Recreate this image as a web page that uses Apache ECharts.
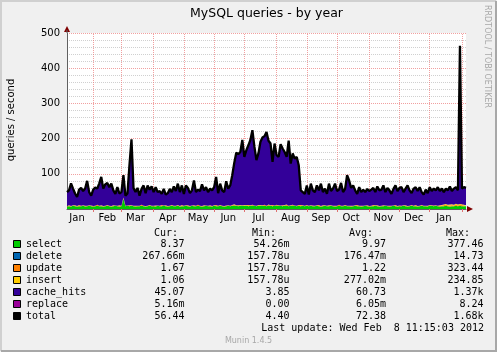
<!DOCTYPE html>
<html>
<head>
<meta charset="utf-8">
<title>MySQL queries - by year</title>
<script src="https://cdn.jsdelivr.net/npm/echarts@6/dist/echarts.min.js"></script>
<style>
html, body { margin: 0; padding: 0; background: #F0F0F0; }
#container { width: 497px; height: 352px; }
</style>
</head>
<body>
<div id="container"></div>
<script>
// one point every 2 days, starting 2011-01-06
var startDay = Date.UTC(2011, 0, 6);
var monthNames = ['Jan', 'Feb', 'Mar', 'Apr', 'May', 'Jun', 'Jul', 'Aug', 'Sep', 'Oct', 'Nov', 'Dec'];

// total queries/s (top of the black line)
var total = [
	48,53,73,58,44,34,55,60,51,58,80,48,38,55,61,58,73,91,58,70,74,62,72,53,43,62,44,48,96,38,44,125,198,60,
	48,60,38,57,67,45,67,55,64,48,62,48,51,43,57,41,45,57,48,64,51,72,48,67,43,67,60,45,53,81,48,55,51,
	70,53,62,48,58,53,62,91,45,72,53,48,79,58,67,96,131,160,156,162,196,148,167,181,196,224,177,139,158,191,203,207,219,
	194,186,134,186,153,148,184,172,162,148,194,129,158,143,148,124,53,48,43,67,41,72,53,48,67,53,72,48,58,43,72,51,58,
	72,51,55,74,48,57,96,81,60,67,53,43,62,48,55,48,57,51,55,60,48,64,53,55,67,48,60,53,43,57,67,51,60,
	62,48,58,67,53,45,58,62,51,62,48,41,55,45,62,51,58,53,62,51,58,48,58,53,64,51,58,62,53,464,58,62,60
];
var select = [
	7,8,7,9,8,7,8,8,9,7,8,9,8,7,8,9,8,8,7,8,
	9,8,7,8,9,8,7,8,30,8,9,8,9,8,7,8,8,9,8,7,
	8,9,8,8,7,9,8,8,9,8,7,8,9,8,8,9,7,8,8,9,
	8,7,9,8,8,9,8,7,8,9,8,8,7,9,8,8,9,8,7,8,
	9,8,9,10,9,8,10,9,9,10,8,9,10,9,8,9,10,9,9,8,
	10,9,8,9,10,9,9,8,10,9,8,9,10,9,8,9,8,9,8,9,
	8,9,8,8,9,8,7,8,9,8,8,9,8,7,8,9,8,8,9,8,
	8,7,8,9,8,8,7,8,9,8,7,8,8,9,8,7,8,8,9,8,
	7,8,9,8,7,8,8,9,8,7,8,9,8,8,7,8,9,8,8,7,
	10,9,8,9,8,7,8,8,9,8,7,8,8,9,8,9,8,8,8
];
var update = [
	1,2,1,1,2,1,3,1,1,2,1,1,2,1,1,3,1,2,1,1,
	2,1,1,2,1,1,3,1,2,1,1,2,1,1,2,1,1,3,1,1,
	1,2,1,1,2,1,1,3,1,2,1,1,2,1,1,2,1,3,1,1,
	2,1,1,2,1,3,1,1,2,1,1,2,1,1,3,1,2,1,1,2,
	1,1,2,3,1,2,1,1,2,1,3,1,2,1,1,2,1,1,3,1,
	2,1,3,1,2,1,1,2,1,3,1,1,2,1,1,2,3,1,1,2,
	1,1,2,1,1,3,1,2,1,1,2,1,1,2,1,3,1,1,2,1,
	1,2,1,1,3,1,2,1,1,2,1,1,3,1,2,1,1,2,1,1,
	2,1,1,3,1,2,1,1,2,1,1,2,1,3,1,1,2,1,1,2,
	1,1,2,1,1,3,2,3,3,2,3,3,2,3,2,3,3,2,2
];
var insert = [
	0.3,0.5,0.2,0.4,0.3,0.6,0.2,0.3,0.5,0.2,0.4,0.3,0.2,0.5,0.3,0.4,0.2,0.3,0.6,0.3,
	0.2,0.4,0.3,0.5,0.2,0.3,0.4,0.2,0.6,0.3,0.2,0.4,0.3,0.5,0.2,0.3,0.4,0.3,0.2,0.5,
	0.3,0.2,0.4,0.3,0.6,0.2,0.3,0.4,0.2,0.5,0.3,0.2,0.4,0.3,0.2,0.5,0.3,0.4,0.2,0.3,
	0.4,0.3,0.2,0.5,0.3,0.4,0.2,0.3,0.6,0.2,0.4,0.3,0.2,0.5,0.3,0.2,0.4,0.3,0.5,0.2,
	0.3,0.4,0.2,0.5,0.3,0.6,0.2,0.4,0.3,0.2,0.5,0.3,0.4,0.2,0.3,0.5,0.2,0.4,0.3,0.2,
	0.5,0.3,0.4,0.2,0.3,0.6,0.2,0.4,0.3,0.5,0.2,0.3,0.4,0.2,0.3,0.5,0.2,0.4,0.3,0.2,
	0.4,0.3,0.2,0.5,0.3,0.4,0.2,0.3,0.5,0.2,0.4,0.3,0.2,0.5,0.3,0.2,0.4,0.3,0.5,0.2,
	0.3,0.4,0.2,0.3,0.5,0.2,0.4,0.3,0.2,0.5,0.3,0.4,0.2,0.3,0.5,0.2,0.4,0.3,0.2,0.4,
	0.3,0.5,0.2,0.4,0.3,0.2,0.5,0.3,0.4,0.2,0.3,0.5,0.2,0.4,0.3,0.2,0.5,0.3,0.4,0.2,
	0.3,0.4,0.2,0.5,0.3,0.4,1.5,2,2.5,2,3,2.5,2,3,2.5,2,2.5,2,1
];

// legend table
var legendNames = ['select', 'delete', 'update', 'insert', 'cache_hits', 'replace', 'total'];
var legendColors = ['#00CC00', '#0066B3', '#FF8000', '#FFCC00', '#330099', '#990099', '#000000'];
var curVals = ['8.37', '267.66m', '1.67', '1.06', '45.07', '5.16m', '56.44'];
var minVals = ['54.26m', '157.78u', '157.78u', '157.78u', '3.85', '0.00', '4.40'];
var avgVals = ['9.97', '176.47m', '1.22', '277.02m', '60.73', '6.05m', '72.38'];
var maxVals = ['377.46', '14.73', '323.44', '234.85', '1.37k', '8.24', '1.68k'];

(function () {
	var days = [];
	for (var i = 0; i < total.length; i++) {
		days.push(new Date(startDay + i * 2 * 86400000).toISOString().slice(0, 10));
	}
	var cacheHits = total.map(function (t, i) {
		return Math.max(0, +(t - select[i] - update[i] - insert[i]).toFixed(2));
	});
	function dayOf(v) { return +v.slice(8, 10); }
	function monthStart(idx, v) { var d = dayOf(v); return d === 1 || d === 2; }
	function midMonth(idx, v) { var d = dayOf(v); return d === 15 || d === 16; }

	var mono = 'DejaVu Sans Mono';
	var sans = 'DejaVu Sans';
	var major = 'rgba(235,120,120,0.7)';
	var minor = '#D0D0D0';

	// month grid lines, placed on the category axis
	var monthLines = days.filter(function (v, i) { return monthStart(i, v); }).map(function (v) {
		return { xAxis: v };
	});

	function area(name, data, color) {
		return {
			name: name, type: 'line', stack: 'q', data: data,
			symbol: 'none', lineStyle: { width: 0 },
			areaStyle: { color: color, opacity: 1 },
			itemStyle: { color: color }
		};
	}

	// legend rows drawn as plain text
	var g = [];
	var cols = [[154, 'Cur:', curVals, 184.5], [252, 'Min:', minVals, 289.5], [349, 'Avg:', avgVals, 386], [446, 'Max:', maxVals, 483.5]];
	cols.forEach(function (c) {
		g.push({ type: 'text', x: c[0], y: 233, style: { text: c[1], font: '10px ' + mono, fill: '#000', verticalAlign: 'middle' } });
	});
	legendNames.forEach(function (n, i) {
		var y = 244.5 + i * 12;
		g.push({ type: 'rect', shape: { x: 13.5, y: y - 4, width: 7, height: 7 }, style: { fill: legendColors[i], stroke: '#000', lineWidth: 1 } });
		g.push({ type: 'text', x: 26, y: y, style: { text: n, font: '10px ' + mono, fill: '#000', verticalAlign: 'middle' } });
		cols.forEach(function (c) {
			g.push({ type: 'text', x: c[3], y: y, style: { text: c[2][i], font: '10px ' + mono, fill: '#000', align: 'right', verticalAlign: 'middle' } });
		});
	});
	g.push({ type: 'text', x: 484, y: 328.5, style: { text: 'Last update: Wed Feb  8 11:15:03 2012', font: '10px ' + mono, fill: '#000', align: 'right', verticalAlign: 'middle' } });
	g.push({ type: 'text', x: 248.5, y: 341, style: { text: 'Munin 1.4.5', font: '8px ' + sans, fill: '#A8A8A8', align: 'center', verticalAlign: 'middle' } });
	g.push({ type: 'text', x: 266.5, y: 14, style: { text: 'MySQL queries - by year', font: '12.5px ' + sans, fill: '#000', align: 'center', verticalAlign: 'middle' } });
	g.push({ type: 'text', x: 11, y: 120, rotation: Math.PI / 2, style: { text: 'queries / second', font: '10px ' + sans, fill: '#000', align: 'center', verticalAlign: 'middle' } });
	g.push({ type: 'text', x: 487, y: 5, rotation: -Math.PI / 2, style: { text: 'RRDTOOL / TOBI OETIKER', font: '8px ' + sans, fill: '#A8A8A8', align: 'left', verticalAlign: 'middle' } });
	// axis arrows
	g.push({ type: 'polygon', shape: { points: [[67, 26], [64, 32], [70, 32]] }, style: { fill: '#7F0000' } });
	g.push({ type: 'polygon', shape: { points: [[473, 209], [467, 206], [467, 212]] }, style: { fill: '#7F0000' } });
	g.push({ type: 'line', shape: { x1: 67, y1: 33, x2: 67, y2: 30 }, style: { stroke: '#606060', lineWidth: 1 } });
	// frame
	g.push({ type: 'polyline', shape: { points: [[1, 351], [1, 1], [496, 1]] }, style: { stroke: '#D0D0D0', lineWidth: 2, fill: null } });
	g.push({ type: 'polyline', shape: { points: [[496, 1], [496, 351], [1, 351]] }, style: { stroke: '#A8A8A8', lineWidth: 2, fill: null } });

	var myChart = echarts.init(document.getElementById('container'));
	var option = {
		animation: false,
		backgroundColor: '#F0F0F0',
		grid: { left: 67, top: 33, width: 399, height: 176, show: true, backgroundColor: '#FFFFFF', borderWidth: 0 },
		xAxis: {
			type: 'category', data: days, boundaryGap: false,
			axisLine: { lineStyle: { color: '#606060', width: 1 } },
			axisTick: { show: true, interval: monthStart, length: 3, lineStyle: { color: '#E07070' } },
			axisLabel: {
				interval: midMonth, margin: 4, color: '#000', fontFamily: sans, fontSize: 10,
				formatter: function (v) { return monthNames[+v.slice(5, 7) - 1]; }
			},
			splitLine: { show: false }
		},
		yAxis: {
			type: 'value', min: 0, max: 500, interval: 20,
			axisLine: { show: true, lineStyle: { color: '#606060', width: 1 } },
			axisTick: { show: false },
			axisLabel: {
				margin: 7, color: '#000', fontFamily: sans, fontSize: 10,
				formatter: function (v) { return v > 0 && v % 100 === 0 ? v : ''; }
			},
			splitLine: { show: true, lineStyle: { color: [major, minor, minor, minor, minor], type: [1, 1], width: 1 } }
		},
		series: [
			area('select', select, '#00CC00'),
			area('update', update, '#FF8000'),
			area('insert', insert, '#FFCC00'),
			area('cache_hits', cacheHits, '#330099'),
			{
				name: 'total', type: 'line', data: total, symbol: 'none', z: 5,
				lineStyle: { color: '#000', width: 2.3 }, itemStyle: { color: '#000' },
				markLine: {
					silent: true, symbol: 'none', label: { show: false }, z: 1,
					lineStyle: { color: major, type: [1, 1], width: 1 },
					data: monthLines
				}
			}
		],
		graphic: g
	};
	myChart.setOption(option);
})();
</script>
</body>
</html>
